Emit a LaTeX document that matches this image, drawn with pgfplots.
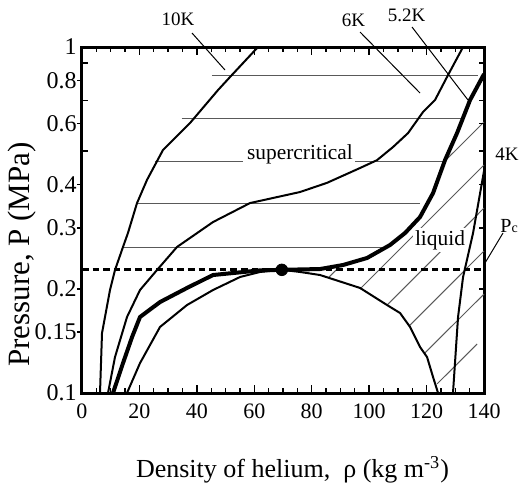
\documentclass[border=0pt]{standalone}
\usepackage{fontspec}
\setmainfont{Liberation Serif}
\usepackage{pgfplots}
\pgfplotsset{compat=1.18}
\begin{document}
\begin{tikzpicture}
\path (-41pt,-51pt) rectangle (221.5pt,196.5pt);
\begin{axis}[
  at={(0pt,0pt)}, anchor=south west,
  scale only axis, width=201pt, height=173pt,
  xmin=0, xmax=140, ymin=0.1, ymax=1, ymode=log,
  clip=false,
  axis line style={line width=1.5pt},
  tick align=inside,
  xtick={0,20,40,60,80,100,120,140}, minor x tick num=3,
  major tick length=4pt, minor tick length=2.5pt,
  tick style={black, line width=0.7pt},
  ytick={0.1,0.15,0.2,0.3,0.4,0.6,0.8,1},
  yticklabels={0.1,0.15,0.2,0.3,0.4,0.6,0.8,1},
  ytick style={draw=none},
  xticklabel style={font=\fontsize{11}{13}\selectfont, yshift=-2pt},
  yticklabel style={font=\fontsize{12}{14}\selectfont, inner xsep=0.5pt, xshift=-2pt},
  /pgf/number format/assume math mode=true,
]
% horizontal hatch (supercritical)
\addplot[black!65, line width=0.5pt] coordinates {(45.2,0.826) (137.9,0.826)};
\addplot[black!65, line width=0.5pt] coordinates {(34.7,0.623) (132.7,0.623)};
\addplot[black!65, line width=0.5pt] coordinates {(25.4,0.468) (56.1,0.468)};
\addplot[black!65, line width=0.5pt] coordinates {(95.1,0.468) (126.4,0.468)};
\addplot[black!65, line width=0.5pt] coordinates {(19.0,0.354) (117.7,0.354)};
\addplot[black!65, line width=0.5pt] coordinates {(13.9,0.264) (104.5,0.264)};
% diagonal hatch (liquid)
\addplot[black!65, line width=0.5pt] coordinates {(85.8,0.2154) (90.07,0.2338)};
\addplot[black!65, line width=0.5pt] coordinates {(126.2,0.4666) (140,0.607)};
\addplot[black!65, line width=0.5pt] coordinates {(96.8,0.1998) (140,0.456)};
\addplot[black!65, line width=0.5pt] coordinates {(106.4,0.1801) (140,0.3425)};
\addplot[black!65, line width=0.5pt] coordinates {(114.0,0.1564) (140,0.2573)};
\addplot[black!65, line width=0.5pt] coordinates {(119.4,0.1305) (140,0.1932)};
\addplot[black!65, line width=0.5pt] coordinates {(123.7,0.1063) (137.6,0.1386)};
% Pc dashed line
\addplot[black, line width=1.5pt, dash pattern=on 3.3pt off 2pt] coordinates {(0,0.227) (140,0.227)};
% 10K
\addplot[black, line width=1pt] coordinates {
(6.27,0.1) (6.97,0.149) (9.75,0.1985) (11.49,0.2267) (14.28,0.2643) (16.0,0.290)
(19.16,0.354) (22.64,0.413) (28.21,0.504) (37.62,0.603) (47.37,0.751) (51.55,0.819) (61.3,1.0)};
% 6K
\addplot[black, line width=1pt] coordinates {
(9.06,0.1) (11.49,0.127) (15.67,0.1658) (20.2,0.1985) (26.12,0.2267) (33.09,0.2643)
(45.63,0.312) (58.5,0.354) (75.93,0.381) (85.34,0.405) (96.83,0.447) (102.75,0.471)
(108.32,0.514) (113.55,0.564) (118.77,0.649) (122.95,0.703) (127.48,0.83) (132.71,1.0)};
% saturation dome
\addplot[black, line width=1pt] coordinates {
(15.67,0.1) (20.2,0.122) (27.17,0.1552) (36.57,0.1796) (45.63,0.1985) (55.03,0.2164)
(62.0,0.2238) (69.6,0.227) (75.93,0.2238) (82.9,0.2193) (96.83,0.2012) (106.23,0.1796)
(110.76,0.1703) (114.25,0.1552) (117.73,0.1358) (120.17,0.127) (122.26,0.1112) (124.0,0.1)};
% 4K
\addplot[black, line width=1pt] coordinates {
(129.2,0.1) (130.96,0.1658) (132.71,0.2164) (134.45,0.2505) (136.19,0.290) (140,0.438)};
% 5.2K (critical isotherm)
\addplot[black, line width=2pt] coordinates {
(10.8,0.1) (14.28,0.122) (17.42,0.145) (20.2,0.1658) (27.17,0.1832) (36.57,0.2012)
(45.63,0.2193) (62.0,0.2262) (69.6,0.227) (82.9,0.2282) (90.9,0.2344) (99.27,0.2456)
(107.28,0.2678) (112.5,0.290) (117.73,0.3227) (122.26,0.3784) (126.44,0.4715)
(130.62,0.5641) (135.15,0.7029) (140,0.835)};
% critical point
\addplot[only marks, mark=*, mark size=2.9pt, black] coordinates {(69.6,0.227)};
% y ticks: left outward (labelled), left inward (minor), right inward
\draw[line width=0.7pt] (axis cs:0,0.15) -- ++(-2.5pt,0pt);
\draw[line width=0.7pt] (axis cs:0,0.2) -- ++(-2.5pt,0pt);
\draw[line width=0.7pt] (axis cs:0,0.3) -- ++(-2.5pt,0pt);
\draw[line width=0.7pt] (axis cs:0,0.4) -- ++(-2.5pt,0pt);
\draw[line width=0.7pt] (axis cs:0,0.6) -- ++(-2.5pt,0pt);
\draw[line width=0.7pt] (axis cs:0,0.8) -- ++(-2.5pt,0pt);
\draw[line width=0.7pt] (axis cs:0,0.5) -- ++(3pt,0pt);
\draw[line width=0.7pt] (axis cs:0,0.7) -- ++(3pt,0pt);
\draw[line width=0.7pt] (axis cs:0,0.9) -- ++(3pt,0pt);
\draw[line width=0.7pt] (axis cs:140,0.2) -- ++(-2.5pt,0pt);
\draw[line width=0.7pt] (axis cs:140,0.3) -- ++(-2.5pt,0pt);
\draw[line width=0.7pt] (axis cs:140,0.4) -- ++(-2.5pt,0pt);
\draw[line width=0.7pt] (axis cs:140,0.5) -- ++(-2.5pt,0pt);
\draw[line width=0.7pt] (axis cs:140,0.6) -- ++(-2.5pt,0pt);
\draw[line width=0.7pt] (axis cs:140,0.7) -- ++(-2.5pt,0pt);
\draw[line width=0.7pt] (axis cs:140,0.8) -- ++(-2.5pt,0pt);
\draw[line width=0.7pt] (axis cs:140,0.9) -- ++(-2.5pt,0pt);
\end{axis}
% annotations (pt coordinates relative to the axis' lower left corner)
\node[font=\fontsize{10.7}{12}\selectfont, anchor=base, inner sep=0pt] at (109pt,116.75pt) {supercritical};
\node[font=\fontsize{10.7}{12}\selectfont, anchor=base, fill=white, inner sep=1pt] at (179pt,74pt) {liquid};
\node[font=\fontsize{9.5}{11}\selectfont, anchor=base, inner sep=0pt] at (48pt,184pt) {10K};
\node[font=\fontsize{9.5}{11}\selectfont, anchor=base, inner sep=0pt] at (135.75pt,183.5pt) {6K};
\node[font=\fontsize{9.5}{11}\selectfont, anchor=base, inner sep=0pt] at (162.25pt,186pt) {5.2K};
\node[font=\fontsize{9.5}{11}\selectfont, anchor=base west, inner sep=0pt] at (206.5pt,116.5pt) {4K};
\node[font=\fontsize{10}{11}\selectfont, anchor=base west, inner sep=0pt] at (209pt,80.5pt) {P{\fontsize{7}{8}\selectfont c}};
\draw[line width=0.5pt] (55pt,180pt) -- (71.5pt,161.5pt);
\draw[line width=0.5pt] (139pt,180.5pt) -- (169pt,150pt);
\draw[line width=0.5pt] (165pt,183pt) -- (193pt,146.5pt);
\draw[line width=0.5pt] (201.5pt,65pt) -- (210.5pt,80pt);
\node[font=\fontsize{15.5}{17}\selectfont, rotate=90] at (-29.75pt,69.25pt) {Pressure, P (MPa)};
\node[font=\fontsize{13}{15}\selectfont] at (105.25pt,-38.5pt) {Density of helium,\ \ ρ (kg m\textsuperscript{-3})};
\end{tikzpicture}
\end{document}
